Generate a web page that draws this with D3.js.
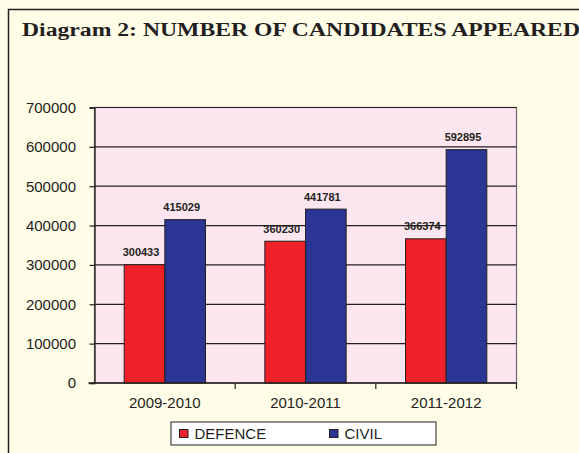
<!DOCTYPE html>
<html>
<head>
<meta charset="utf-8">
<script src="https://cdn.jsdelivr.net/npm/d3@7/dist/d3.min.js"></script>
<style>
  html, body { margin: 0; padding: 0; background: #fffce8; }
  svg { display: block; }
</style>
</head>
<body>
<svg id="chart" width="579" height="453"></svg>
<script>
// Candidates appeared per examination year
const years = ["2009-2010", "2010-2011", "2011-2012"];
const seriesNames = ["DEFENCE", "CIVIL"];
const defence = [300433, 360230, 366374];
const civil = [415029, 441781, 592895];
const yTicks = [0, 100000, 200000, 300000, 400000, 500000, 600000, 700000];
const colors = ["#ee2129", "#2b3593"];

const svg = d3.select("#chart");
const sans = "'Liberation Sans', Arial, sans-serif";

// page background and outer frame
svg.append("rect").attr("x", 0).attr("y", 0).attr("width", 579).attr("height", 453).attr("fill", "#fffce8");
svg.append("path")
  .attr("d", "M8.5,460 V9.5 H600")
  .attr("fill", "none").attr("stroke", "#231f20").attr("stroke-width", 1.5);

svg.append("text")
  .attr("x", 22).attr("y", 35.5)
  .attr("font-family", "'Liberation Serif', 'DejaVu Serif', serif")
  .attr("font-weight", "bold")
  .attr("font-size", 18.5)
  .attr("fill", "#231f20")
  .attr("textLength", 558)
  .attr("lengthAdjust", "spacingAndGlyphs")
  .text("Diagram 2: NUMBER OF CANDIDATES APPEARED");

const plot = { left: 94.5, right: 516.5, top: 107.5, bottom: 383 };

const x0 = d3.scaleBand().domain(years).range([plot.left, plot.right]).paddingInner(0).paddingOuter(0);
const barW = x0.bandwidth() / 3.46;
const x1 = d3.scaleBand().domain(seriesNames)
  .range([(x0.bandwidth() - 2 * barW) / 2, (x0.bandwidth() + 2 * barW) / 2]);
const y = d3.scaleLinear().domain([0, 700000]).range([plot.bottom, plot.top]);

// plot area
svg.append("rect")
  .attr("x", plot.left).attr("y", plot.top)
  .attr("width", plot.right - plot.left).attr("height", plot.bottom - plot.top)
  .attr("fill", "#fde6f0").attr("stroke", "#6d6a6b").attr("stroke-width", 1.2);

// gridlines
svg.append("g").selectAll("line").data(yTicks.filter(d => d > 0)).join("line")
  .attr("x1", plot.left).attr("x2", plot.right)
  .attr("y1", d => y(d)).attr("y2", d => y(d))
  .attr("stroke", "#231f20").attr("stroke-width", 1.2);

// y axis
const yAxis = svg.append("g")
  .attr("transform", `translate(${plot.left},0)`)
  .call(d3.axisLeft(y).tickValues(yTicks).tickSize(5).tickPadding(13.5).tickFormat(d3.format("d")));
yAxis.select(".domain").attr("stroke", "#231f20").attr("stroke-width", 1.3);
yAxis.selectAll(".tick line").attr("stroke", "#231f20").attr("stroke-width", 1.2);
yAxis.selectAll(".tick text")
  .attr("font-family", sans)
  .attr("font-size", 15).attr("fill", "#231f20");

// bars with value labels
const groups = svg.append("g").selectAll("g").data(years).join("g")
  .attr("transform", d => `translate(${x0(d)},0)`);

const values = [defence, civil];
groups.each(function (yr, i) {
  const g = d3.select(this);
  seriesNames.forEach((s, k) => {
    const v = values[k][i];
    g.append("rect")
      .attr("x", x1(s)).attr("y", y(v))
      .attr("width", x1.bandwidth()).attr("height", y(0) - y(v))
      .attr("fill", colors[k]).attr("stroke", "#231f20").attr("stroke-width", 1);
    g.append("text")
      .attr("x", x1(s) + x1.bandwidth() / 2 - 3.5).attr("y", y(v) - 8.5)
      .attr("text-anchor", "middle")
      .attr("font-family", sans)
      .attr("font-weight", "bold").attr("font-size", 11)
      .attr("fill", "#231f20")
      .text(v);
  });
});

// x axis
const xAxis = svg.append("g")
  .attr("transform", `translate(0,${plot.bottom})`)
  .call(d3.axisBottom(x0).tickSize(0).tickPadding(14));
xAxis.select(".domain").remove();
xAxis.selectAll(".tick text")
  .attr("font-family", sans)
  .attr("font-size", 15).attr("fill", "#231f20");
svg.append("line")
  .attr("x1", plot.left - 6).attr("x2", plot.right)
  .attr("y1", plot.bottom).attr("y2", plot.bottom)
  .attr("stroke", "#231f20").attr("stroke-width", 1.3);
svg.append("g").selectAll("line").data(years).join("line")
  .attr("x1", d => x0(d) + x0.step())
  .attr("x2", d => x0(d) + x0.step())
  .attr("y1", plot.bottom).attr("y2", plot.bottom + 6)
  .attr("stroke", "#231f20").attr("stroke-width", 1.2);

// legend
const legend = svg.append("g");
legend.append("rect")
  .attr("x", 171).attr("y", 422).attr("width", 265).attr("height", 23)
  .attr("fill", "#ffffff").attr("stroke", "#231f20").attr("stroke-width", 1);
const legendX = [179.5, 329.5];
seriesNames.forEach((s, k) => {
  legend.append("rect")
    .attr("x", legendX[k]).attr("y", 429.5).attr("width", 8.5).attr("height", 8)
    .attr("fill", colors[k]).attr("stroke", "#231f20").attr("stroke-width", 1);
  legend.append("text")
    .attr("x", legendX[k] + 15).attr("y", 439)
    .attr("font-family", sans)
    .attr("font-size", 15).attr("fill", "#231f20")
    .text(s);
});
</script>
</body>
</html>
